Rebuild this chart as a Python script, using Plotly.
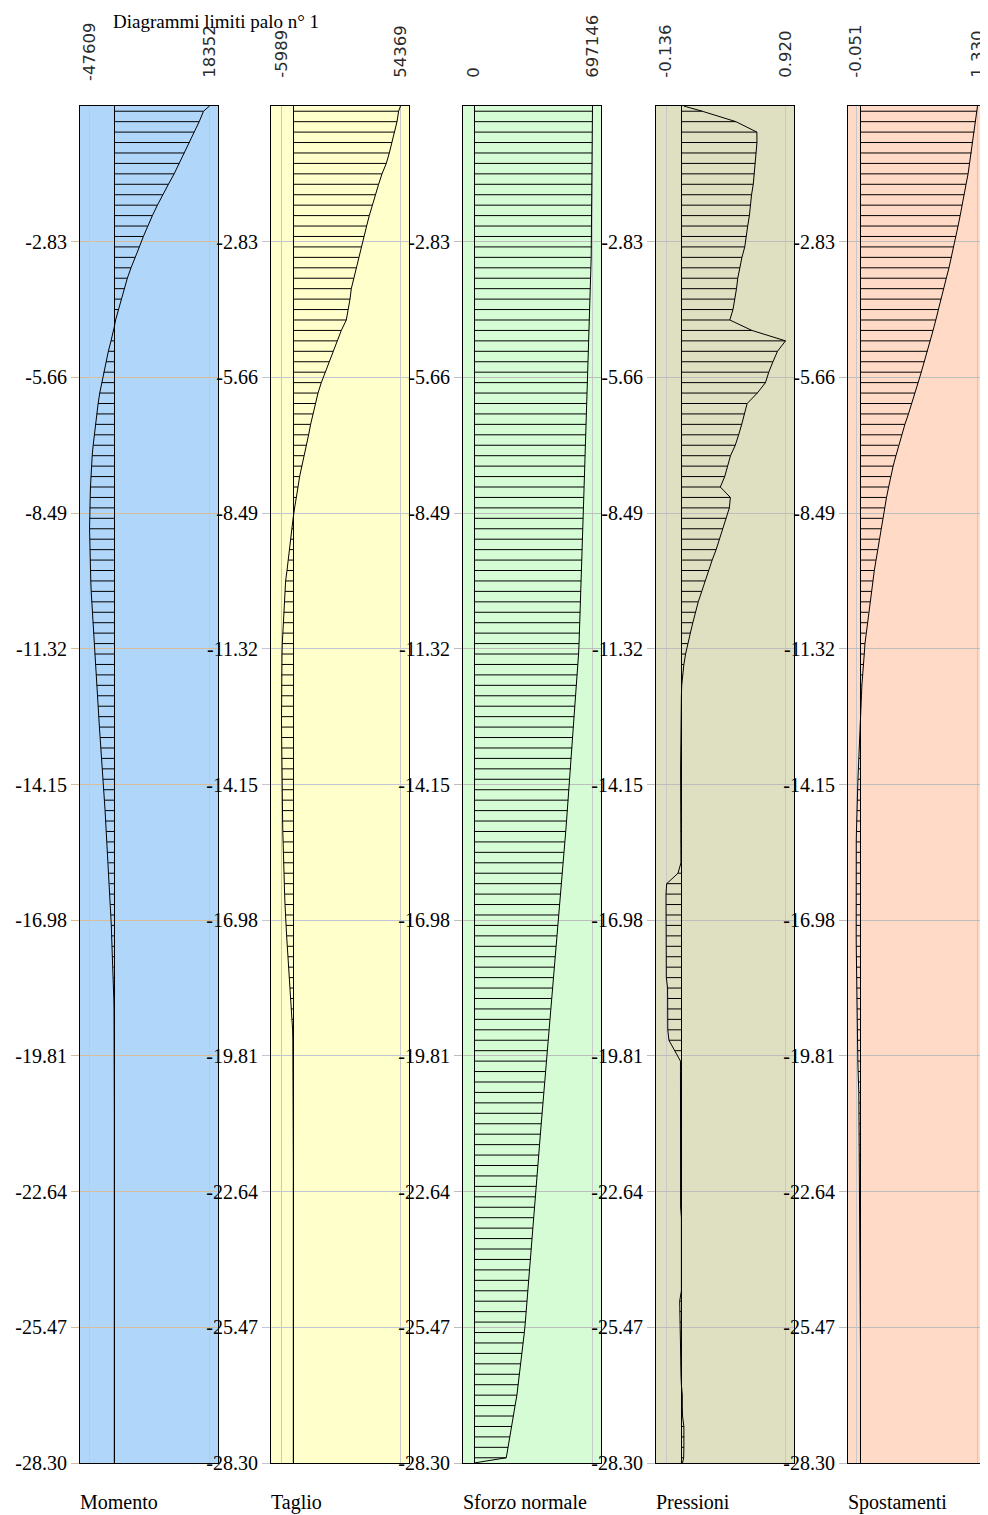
import plotly.graph_objects as go

# ---------------- data ----------------
N_ELEM = 130
PILE_LEN = 28.30
DEPTH_MID = [-(k + 0.5) * PILE_LEN / N_ELEM for k in range(N_ELEM)]
DEPTH_HEAD = 0.0
DEPTH_TIP = -28.30

TICK_DEPTHS = [-2.83, -5.66, -8.49, -11.32, -14.15, -16.98, -19.81, -22.64, -25.47, -28.30]
TICK_LABELS = ["-2.83", "-5.66", "-8.49", "-11.32", "-14.15", "-16.98", "-19.81", "-22.64", "-25.47", "-28.30"]

PANEL_NAMES = ["Momento", "Taglio", "Sforzo normale", "Pressioni", "Spostamenti"]
RANGE_MIN = [-47609, -5989, 0, -0.136, -0.051]
RANGE_MAX = [18352, 54369, 697146, 0.920, 1.330]
RANGE_MIN_TXT = ["-47609", "-5989", "0", "-0.136", "-0.051"]
RANGE_MAX_TXT = ["18352", "54369", "697146", "0.920", "1.330"]

MOMENTO = [
    17195, 16364, 15398, 14490, 13524, 12500, 11534, 10433, 9332, 8308,
    7342, 6434, 5603, 4830, 3999, 3226, 2512, 1932, 1294, 773,
    251, -1333, -6284, -11426, -15806, -20377, -24186, -27995, -31042, -33708,
    -36184, -38659, -40563, -42468, -43801, -45134, -45706, -46277, -47038, -47609,
    -47500, -47038, -46900, -46277, -45706, -45134, -44373, -43230, -41897, -41325,
    -39993, -38659, -37517, -36184, -34850, -33708, -32375, -31042, -29899, -28566,
    -27233, -26090, -24757, -23424, -22281, -20377, -19044, -17711, -16568, -15235,
    -13902, -12759, -11426, -10093, -8951, -8189, -7046, -6284, -5713, -5142,
    -4380, -3237, -1904, -1523, -1143, -952, -571, -381, -190, -95,
    -40, -20, -10, 0, 0, 0, 0, 0, 0, 0,
    0, 0, 0, 0, 0, 0, 0, 0, 0, 0,
    0, 0, 0, 0, 0, 0, 0, 0, 0, 0,
    0, 0, 0, 0, 0, 0, 0, 0, 0, 0,
]
MOMENTO_HEAD, MOMENTO_TIP = 18352, 0

TAGLIO = [
    53408, 52597, 51379, 50061, 48691, 47170, 44989, 43264, 41590, 40069,
    38547, 37178, 35859, 34490, 33120, 31954, 30584, 29418, 28758, 27744,
    26882, 24346, 22317, 20136, 18107, 16230, 14202, 12528, 11158, 9992,
    8775, 7760, 6594, 5427, 4413, 3195, 2384, 1369, 659, -100,
    -659, -1369, -1877, -2384, -3195, -3905, -4210, -4565, -4920, -5224,
    -5427, -5579, -5731, -5833, -5934, -5960, -5989, -5985, -5980, -5970,
    -5950, -5934, -5884, -5833, -5731, -5681, -5579, -5528, -5427, -5326,
    -5224, -5072, -4920, -4717, -4565, -4413, -4210, -4058, -3703, -3398,
    -3043, -2688, -2384, -2029, -1674, -1369, -1014, -659, -355, -254,
    -203, -152, -152, -101, -51, -30, -20, -10, 0, 0,
    0, 0, 0, 0, 0, 0, 0, 0, 0, 0,
    0, 0, 0, 0, 0, 0, 0, 0, 0, 0,
    0, 0, 0, 0, 0, 0, 0, 0, 0, 0,
]
TAGLIO_HEAD, TAGLIO_TIP = 54369, 0

SFORZO = [
    697000, 696700, 696400, 696100, 695800, 695500, 695200, 694900, 694600, 694300,
    694000, 693700, 693400, 691200, 689500, 687700, 685300, 683600, 681800, 680000,
    678300, 675900, 674100, 672400, 670600, 668800, 666500, 664700, 662900, 661200,
    659400, 657000, 655300, 653500, 651700, 650000, 647600, 645800, 644100, 642300,
    640500, 638800, 637000, 634600, 632900, 630500, 628700, 626400, 624600, 622200,
    620500, 618100, 615200, 611000, 606900, 602800, 598600, 593900, 589800, 585700,
    581500, 577400, 572700, 568600, 564400, 559700, 555000, 549700, 544400, 539700,
    534400, 529000, 524300, 519000, 513700, 508400, 503700, 498400, 493100, 487800,
    482500, 477100, 471800, 466500, 461200, 455900, 450600, 445300, 440000, 434700,
    429400, 424700, 419900, 414600, 409900, 405200, 400500, 395200, 390400, 385700,
    381000, 375700, 371000, 366300, 361500, 356200, 351500, 346800, 341500, 336800,
    332100, 326700, 322000, 317300, 312000, 307300, 302000, 296100, 289000, 281900,
    274800, 267200, 260100, 252400, 241800, 231800, 221800, 211100, 200500, 189900,
]
SFORZO_HEAD, SFORZO_TIP = 697146, 0

PRESSIONI = [
    0.184, 0.482, 0.667, 0.668, 0.661, 0.653, 0.645, 0.635, 0.620, 0.611,
    0.601, 0.586, 0.573, 0.560, 0.535, 0.516, 0.498, 0.487, 0.472, 0.456,
    0.428, 0.623, 0.920, 0.849, 0.809, 0.772, 0.743, 0.671, 0.581, 0.560,
    0.533, 0.506, 0.476, 0.434, 0.410, 0.383, 0.344, 0.433, 0.424, 0.395,
    0.366, 0.336, 0.307, 0.272, 0.239, 0.210, 0.180, 0.149, 0.123, 0.101,
    0.079, 0.057, 0.037, 0.022, 0.011, 0.003, 0.000, 0.000, 0.000, 0.000,
    0.000, -0.006, -0.006, -0.007, -0.007, -0.007, -0.006, -0.006, -0.006, -0.007,
    -0.007, -0.006, -0.004, -0.030, -0.130, -0.136, -0.136, -0.136, -0.136, -0.135,
    -0.135, -0.135, -0.134, -0.133, -0.122, -0.122, -0.122, -0.121, -0.120, -0.110,
    -0.060, -0.008, -0.008, -0.008, -0.008, -0.008, -0.008, -0.008, -0.008, -0.008,
    -0.008, -0.008, -0.008, -0.008, -0.008, -0.007, 0.000, 0.000, 0.000, 0.000,
    0.000, 0.000, 0.000, 0.000, -0.015, -0.015, -0.012, -0.010, -0.008, -0.008,
    -0.006, -0.004, 0.000, 0.008, 0.008, 0.010, 0.022, 0.024, 0.022, 0.020,
]
PRESSIONI_HEAD, PRESSIONI_TIP = 0.02, 0.010

SPOSTAMENTI = [
    1.322, 1.310, 1.294, 1.279, 1.263, 1.243, 1.223, 1.200, 1.180, 1.156,
    1.133, 1.109, 1.085, 1.058, 1.034, 1.006, 0.975, 0.947, 0.916, 0.884,
    0.856, 0.825, 0.793, 0.762, 0.726, 0.691, 0.655, 0.620, 0.580, 0.545,
    0.505, 0.470, 0.430, 0.403, 0.371, 0.343, 0.320, 0.296, 0.276, 0.253,
    0.233, 0.213, 0.193, 0.174, 0.157, 0.142, 0.126, 0.110, 0.091, 0.075,
    0.059, 0.051, 0.043, 0.032, 0.024, 0.016, 0.011, 0.007, 0.003, 0.000,
    -0.006, -0.012, -0.018, -0.024, -0.029, -0.034, -0.038, -0.041, -0.044, -0.046,
    -0.048, -0.049, -0.050, -0.051, -0.051, -0.051, -0.051, -0.050, -0.050, -0.049,
    -0.048, -0.047, -0.046, -0.045, -0.043, -0.042, -0.040, -0.038, -0.036, -0.034,
    -0.032, -0.030, -0.027, -0.020, -0.019, -0.018, -0.017, -0.016, -0.015, -0.014,
    -0.013, -0.012, -0.010, -0.008, -0.007, -0.007, -0.006, -0.006, -0.005, -0.005,
    -0.005, -0.004, -0.004, -0.004, -0.003, 0.000, 0.000, 0.000, 0.000, 0.000,
    0.000, 0.000, 0.000, 0.000, 0.000, 0.000, 0.000, 0.000, 0.000, 0.000,
]
SPOSTAMENTI_HEAD, SPOSTAMENTI_TIP = 1.330, 0.0

SERIES = [MOMENTO, TAGLIO, SFORZO, PRESSIONI, SPOSTAMENTI]
HEADS = [MOMENTO_HEAD, TAGLIO_HEAD, SFORZO_HEAD, PRESSIONI_HEAD, SPOSTAMENTI_HEAD]
TIPS = [MOMENTO_TIP, TAGLIO_TIP, SFORZO_TIP, PRESSIONI_TIP, SPOSTAMENTI_TIP]

# ---------------- layout / style ----------------
# the page body adds an 8px offset, so the figure itself is 8px smaller
OFF = 8
W, H = 988 - OFF, 1515 - OFF
TOP_PX, BOT_PX = 106 - OFF, 1463 - OFF
PLOT_H = BOT_PX - TOP_PX
PANEL_LEFT = [80 - OFF, 271 - OFF, 463 - OFF, 656 - OFF, 848 - OFF]
PANEL_W = 138
GRAY_A = [9.5, 10.5, 11.0, 10.0, 8.0]     # px of min line from panel left
GRAY_B = 129.5                             # px of max line from panel left
MOM_ZERO_PX = 34.3                          # zero line of Momento panel

BG = ["#B0D6FA", "#FFFFCC", "#D6FCD6", "#DFDFC2", "#FFDAC6"]
HGRID = ["#D9BC98", "#C4C4D4", "#BDBDBD", "#BDBDBD", "#BDBDBD"]
VGRID = ["#CFC7B8", "#C8C8C8", "#C8C8C8", "#C8C8C8", "#C8C8C8"]

SERIF = "Liberation Serif, Times New Roman, serif"
SANS = "DejaVu Sans, Tahoma, sans-serif"
TOPFONT = dict(family=SANS, size=16.5, color="#2a2a2a")


def px_paper_x(p):
    return p / W


def px_paper_y(p):
    return (BOT_PX - p) / PLOT_H


def linear_range(vmin, vmax, a, b, w):
    span = (vmax - vmin) / (b - a)
    r0 = vmin - a * span
    return [r0, r0 + w * span]


def hatch(ds, vs):
    xs, ys = [], []
    for d, v in zip(ds, vs):
        xs += [0, v, None]
        ys += [d, d, None]
    return xs, ys


def split_signed(ds, vs, sp, sn):
    px, py, nx, ny = [], [], [], []
    prev = None
    for d, v in zip(ds, vs):
        pos = v > 0
        if prev is not None and prev[2] != pos:
            d0, v0, _ = prev
            o0 = v0 / (sp if v0 > 0 else sn)
            o1 = v / (sp if v > 0 else sn)
            t = o0 / (o0 - o1) if o0 != o1 else 0.0
            dc = d0 + t * (d - d0)
            if pos:
                nx += [0, None]; ny += [dc, None]; px += [0]; py += [dc]
            else:
                px += [0, None]; py += [dc, None]; nx += [0]; ny += [dc]
        if pos:
            px.append(v); py.append(d)
        else:
            nx.append(v); ny.append(d)
        prev = (d, v, pos)
    return px, py, nx, ny


fig = go.Figure()
LINE = dict(color="black", width=1)

layout = dict(
    width=W, height=H,
    margin=dict(l=0, r=0, t=TOP_PX, b=H - BOT_PX, pad=0),
    paper_bgcolor="white", plot_bgcolor="rgba(0,0,0,0)",
    showlegend=False, hovermode=False,
    shapes=[], annotations=[],
)

# Momento scales (positive / negative parts drawn on two overlaid axes)
mom_sp = RANGE_MAX[0] / (GRAY_B - MOM_ZERO_PX)
mom_sn = -RANGE_MIN[0] / (MOM_ZERO_PX - GRAY_A[0])
mom_pos_range = [-MOM_ZERO_PX * mom_sp, (PANEL_W - MOM_ZERO_PX) * mom_sp]
mom_neg_range = [-MOM_ZERO_PX * mom_sn, (PANEL_W - MOM_ZERO_PX) * mom_sn]

for i in range(5):
    n = "" if i == 0 else str(i + 1)
    xa, ya = "x" + n, "y" + n
    dom = [px_paper_x(PANEL_LEFT[i]), px_paper_x(PANEL_LEFT[i] + PANEL_W)]

    ds_out = [DEPTH_HEAD] + DEPTH_MID + [DEPTH_TIP]
    vs_out = [HEADS[i]] + SERIES[i] + [TIPS[i]]

    xaxis = dict(
        domain=dom, anchor=ya, side="top", fixedrange=True,
        showgrid=True, gridcolor=VGRID[i], gridwidth=1,
        zeroline=True, zerolinecolor="black", zerolinewidth=1,
        showline=True, mirror=True, linecolor="black", linewidth=1,
        ticks="", tickangle=-90, ticklabelstandoff=24,
        tickfont=TOPFONT, ticklabeloverflow="allow",
        automargin=False,
    )
    if i == 0:
        xaxis.update(range=mom_pos_range, tickmode="array",
                     tickvals=[RANGE_MAX[0]], ticktext=[RANGE_MAX_TXT[0]])
        layout["xaxis6"] = dict(
            domain=dom, anchor="y", overlaying="x", side="top", fixedrange=True,
            range=mom_neg_range, showgrid=True, gridcolor=VGRID[0], gridwidth=1,
            zeroline=False, showline=False, ticks="", tickangle=-90,
            ticklabelstandoff=24, tickmode="array",
            tickvals=[RANGE_MIN[0]], ticktext=[RANGE_MIN_TXT[0]],
            tickfont=TOPFONT, ticklabeloverflow="allow",
            automargin=False,
        )
        pxs, pys, nxs, nys = split_signed(ds_out, vs_out, mom_sp, mom_sn)
        pos_idx = [k for k, v in enumerate(SERIES[0]) if v > 0]
        neg_idx = [k for k, v in enumerate(SERIES[0]) if v <= 0]
        hx, hy = hatch([DEPTH_MID[k] for k in pos_idx], [SERIES[0][k] for k in pos_idx])
        fig.add_trace(go.Scatter(x=hx, y=hy, mode="lines", line=LINE, xaxis="x", yaxis="y", hoverinfo="skip"))
        hx, hy = hatch([DEPTH_MID[k] for k in neg_idx], [SERIES[0][k] for k in neg_idx])
        fig.add_trace(go.Scatter(x=hx, y=hy, mode="lines", line=LINE, xaxis="x6", yaxis="y", hoverinfo="skip"))
        fig.add_trace(go.Scatter(x=pxs, y=pys, mode="lines", line=LINE, xaxis="x", yaxis="y", hoverinfo="skip"))
        fig.add_trace(go.Scatter(x=nxs, y=nys, mode="lines", line=LINE, xaxis="x6", yaxis="y", hoverinfo="skip"))
    else:
        xaxis.update(range=linear_range(RANGE_MIN[i], RANGE_MAX[i], GRAY_A[i], GRAY_B, PANEL_W),
                     tickmode="array", tickvals=[RANGE_MIN[i], RANGE_MAX[i]],
                     ticktext=[RANGE_MIN_TXT[i], RANGE_MAX_TXT[i]])
        hx, hy = hatch(DEPTH_MID, SERIES[i])
        fig.add_trace(go.Scatter(x=hx, y=hy, mode="lines", line=LINE, xaxis=xa, yaxis=ya, hoverinfo="skip"))
        fig.add_trace(go.Scatter(x=vs_out, y=ds_out, mode="lines", line=LINE, xaxis=xa, yaxis=ya, hoverinfo="skip"))

    layout["xaxis" + n] = xaxis
    layout["yaxis" + n] = dict(
        domain=[0, 1], anchor=xa, range=[DEPTH_TIP, DEPTH_HEAD], fixedrange=True,
        tickmode="array", tickvals=TICK_DEPTHS, ticktext=TICK_LABELS,
        ticks="outside", ticklen=8, tickcolor=HGRID[i], tickwidth=1,
        showgrid=True, gridcolor=HGRID[i], gridwidth=1, zeroline=False,
        showline=True, mirror=True, linecolor="black", linewidth=1,
        tickfont=dict(family=SERIF, size=20, color="black"),
        automargin=False,
    )
    layout["shapes"].append(dict(
        type="rect", xref=xa + " domain", yref=ya + " domain",
        x0=0, x1=1, y0=0, y1=1, fillcolor=BG[i], line=dict(width=0), layer="below",
    ))
    layout["annotations"].append(dict(
        text=PANEL_NAMES[i], xref="paper", yref="paper",
        x=px_paper_x(PANEL_LEFT[i]), y=px_paper_y(1502 - OFF), xanchor="left", yanchor="middle",
        xshift=-2, showarrow=False, font=dict(family=SERIF, size=20, color="black"),
    ))

layout["annotations"].append(dict(
    text="Diagrammi limiti palo n° 1", xref="paper", yref="paper",
    x=px_paper_x(113 - OFF), y=px_paper_y(22 - OFF), xanchor="left", yanchor="middle",
    xshift=-2, showarrow=False, font=dict(family=SERIF, size=19, color="black"),
))

fig.update_layout(**layout)
fig.write_html("out.html")
